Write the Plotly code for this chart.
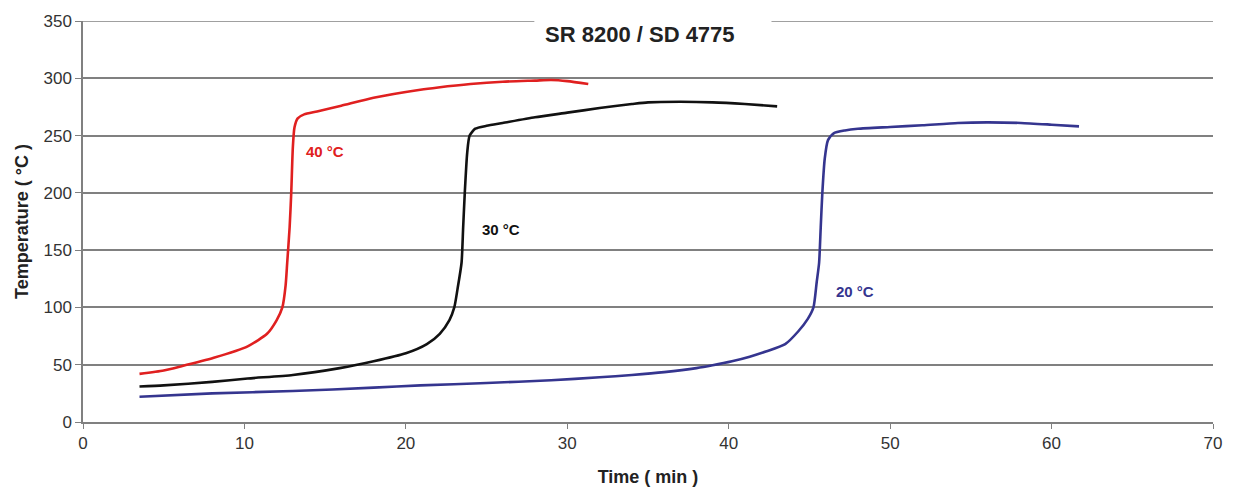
import plotly.graph_objects as go

# 40 °C series (red)
x40 = [3.5, 5, 6.05, 8.1, 10.2, 11.4, 12.0, 12.35, 12.55, 12.65, 12.8, 12.9, 13.0, 13.1, 13.3, 13.7, 14.5, 16, 18, 20.9, 22, 24, 26, 28, 29, 30, 31.3]
y40 = [42, 45, 48.5, 56, 66, 77, 89, 100, 119, 139, 170, 200, 240, 257, 265, 268.5, 271, 276, 283, 290, 292, 295, 297, 298, 298.5, 297.5, 295]

# 30 °C series (black)
x30 = [3.5, 5, 8, 10.2, 13, 15.9, 18.0, 20.0, 21.3, 22.1, 22.7, 23.0, 23.2, 23.45, 23.55, 23.65, 23.8, 23.95, 24.3, 25, 26, 28, 30, 32, 34, 35, 37, 39, 41, 43]
y30 = [31, 32, 35, 38, 41, 47, 53, 60, 68, 77, 89, 100, 116, 139, 170, 200, 235, 250, 256, 258.5, 261, 266, 270, 274, 277.5, 279, 279.5, 279, 277.5, 275.5]

# 20 °C series (blue)
x20 = [3.5, 8, 13, 18, 20.9, 25, 29, 32, 34, 36, 38, 39, 40.2, 41.3, 42.3, 43.5, 44.3, 44.9, 45.25, 45.45, 45.6, 45.7, 45.8, 45.95, 46.15, 46.5, 47.2, 48, 50, 52, 54.2, 56, 58.1, 60, 61.7]
y20 = [22, 25, 27, 30, 32, 34, 36.5, 39, 41, 43.5, 47, 49.5, 53, 57, 61.5, 68, 79, 90, 100, 122, 139, 170, 200, 230, 246, 252, 254.5, 256, 257.5, 259, 261, 261.5, 261, 259.5, 258]

labels = ["40 °C", "30 °C", "20 °C"]
label_x = [13.7, 24.6, 46.5]
label_y = [236, 168, 114]
colors = ["#e02020", "#111111", "#35358f"]

x_ticks = [0, 10, 20, 30, 40, 50, 60, 70]
y_ticks = [0, 50, 100, 150, 200, 250, 300, 350]

FONT = "Liberation Sans, Arial"
GRID = "#808080"

fig = go.Figure()
for xs, ys, c, name in zip([x40, x30, x20], [y40, y30, y20], colors, labels):
    fig.add_trace(go.Scatter(x=xs, y=ys, mode="lines", name=name,
                             line=dict(color=c, width=2.6, shape="spline", smoothing=0.6),
                             showlegend=False))

for t, lx, ly, c in zip(labels, label_x, label_y, colors):
    fig.add_annotation(x=lx, y=ly, text="<b>" + t + "</b>", showarrow=False,
                       xanchor="left", yanchor="middle",
                       font=dict(family=FONT, size=15, color=c))

# top gridline at 350, interrupted by the title box
for a, b in [(0, 27.96), (42.65, 70)]:
    fig.add_shape(type="line", xref="x", yref="y", x0=a, x1=b, y0=350, y1=350,
                  line=dict(color=GRID, width=1.5), layer="below")

fig.add_annotation(x=34.5, y=338, text="<b>SR 8200 / SD 4775</b>", showarrow=False,
                   xanchor="center", yanchor="middle",
                   font=dict(family=FONT, size=22, color="#222222"))

fig.update_layout(
    width=1234, height=496,
    margin=dict(l=83, r=18, t=15, b=74),
    plot_bgcolor="white", paper_bgcolor="white",
    font=dict(family=FONT, size=17, color="#333333"),
)
fig.update_xaxes(range=[0, 70], tickvals=x_ticks, showgrid=False, zeroline=False,
                 showline=True, linecolor=GRID, linewidth=1.5,
                 ticks="outside", ticklen=5, tickcolor=GRID,
                 title=dict(text="<b>Time ( min )</b>", font=dict(size=18, color="#222222"), standoff=18))
fig.update_yaxes(range=[0, 350], tickvals=y_ticks, showgrid=True, gridcolor=GRID, gridwidth=1.5,
                 zeroline=False, showline=True, linecolor=GRID, linewidth=1.5,
                 ticks="outside", ticklen=6, tickcolor=GRID,
                 title=dict(text="<b>Temperature ( °C )</b>", font=dict(size=18, color="#222222"), standoff=10))

fig.write_html("out.html")
